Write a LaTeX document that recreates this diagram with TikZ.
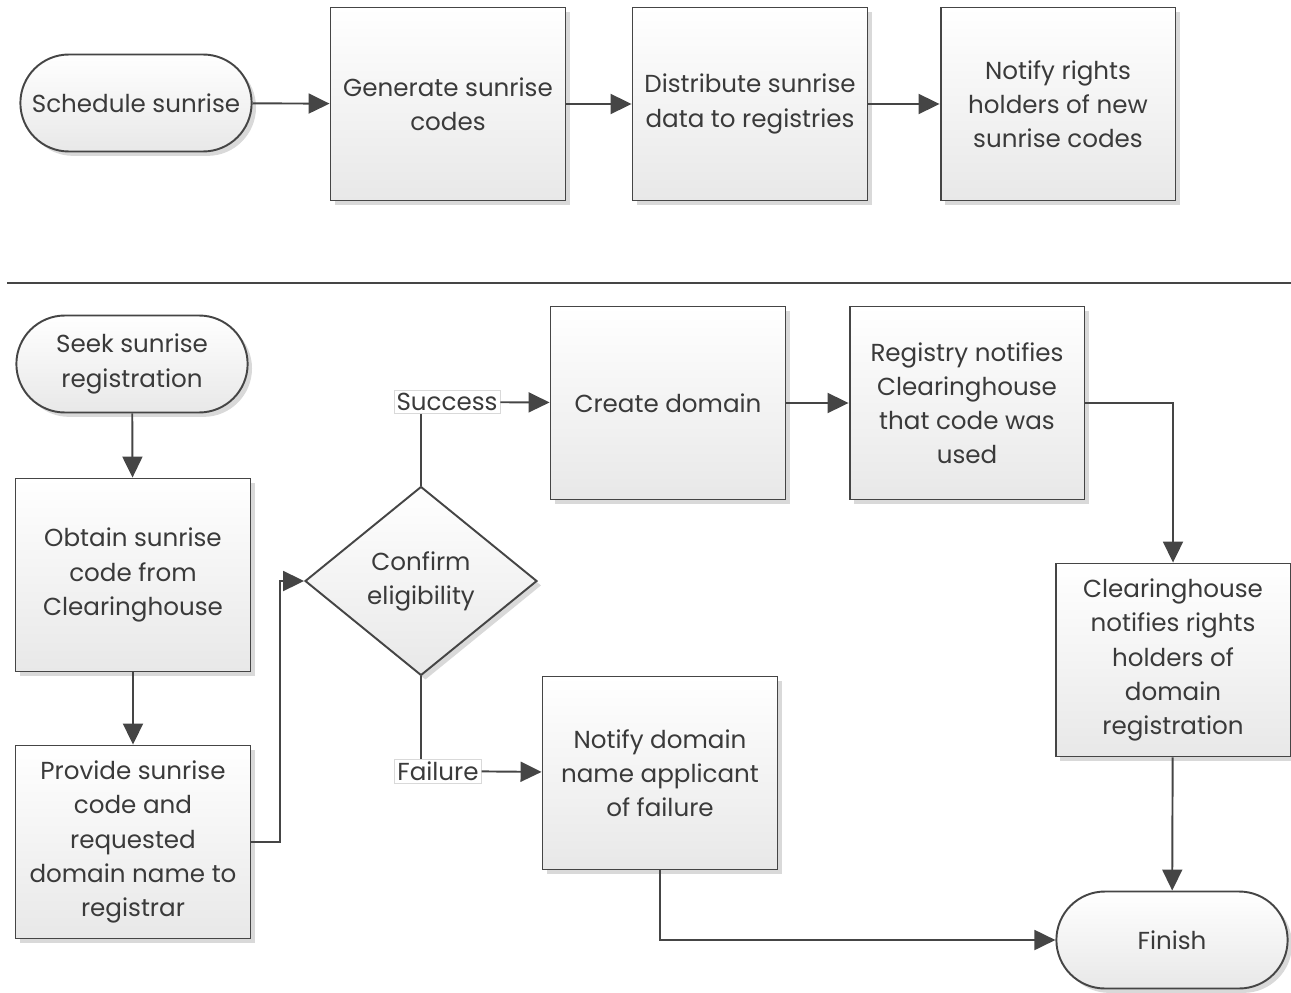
\documentclass[tikz,border=0pt]{standalone}
\usepackage{fontspec}
\setmainfont{Poppins}
\usetikzlibrary{arrows.meta,shapes.geometric,shapes.misc,shadows}
\definecolor{edge}{HTML}{454545}
\definecolor{ink}{HTML}{3a3a3a}
\definecolor{boxgray}{HTML}{e8e8e8}

\begin{document}
\begin{tikzpicture}[x=0.02cm, y=-0.02cm,
	every node/.style={font=\fontsize{14}{19.4}\selectfont, text=ink, align=center},
	shade/.style={draw=edge, line width=1.1pt, top color=white, bottom color=boxgray,
		drop shadow={shadow xshift=2.5pt, shadow yshift=-2.5pt, opacity=0.3, fill=gray}},
	box/.style={shade, rectangle, minimum width=4.7cm, minimum height=3.86cm},
	term/.style={shade, rounded rectangle, minimum width=4.86cm, minimum height=1.94cm},
	choice/.style={shade, diamond, shape aspect=1.23, inner sep=1pt, minimum width=4.64cm, minimum height=3.78cm},
	tag/.style={draw=black!15, fill=white, inner sep=1.5pt},
	line/.style={draw=edge, line width=1.1pt},
	arr/.style={line, -{Triangle[length=0.42cm, width=0.4cm]}}]
	\useasboundingbox (0,0) rectangle (1291,993);

	% sunrise setup
	\node[term] (sched) at (136,103) {Schedule sunrise};
	\node[box] (gen) at (448,104) {Generate sunrise\\codes};
	\node[box] (dist) at (750,104) {Distribute sunrise\\data to registries};
	\node[box] (notify) at (1058,104) {Notify rights\\holders of new\\sunrise codes};

	\draw[arr] (sched) -- (gen);
	\draw[arr] (gen) -- (dist);
	\draw[arr] (dist) -- (notify);

	\draw[line, line width=1.3pt] (7,283) -- (1291,283);

	% registration
	\node[term] (seek) at (132,364) {Seek sunrise\\registration};
	\node[box] (obtain) at (133,575) {Obtain sunrise\\code from\\Clearinghouse};
	\node[box] (provide) at (133,842) {Provide sunrise\\code and\\requested\\domain name to\\registrar};
	\node[choice] (confirm) at (421,581) {Confirm\\eligibility};
	\node[tag] (success) at (447,402) {Success};
	\node[tag] (failure) at (438,771) {Failure};
	\node[box] (create) at (668,403) {Create domain};
	\node[box] (registry) at (967,403) {Registry notifies\\Clearinghouse\\that code was\\used};
	\node[box] (fail) at (660,773) {Notify domain\\name applicant\\of failure};
	\node[box] (chnotify) at (1173,660) {Clearinghouse\\notifies rights\\holders of\\domain\\registration};
	\node[term] (finish) at (1172,940) {Finish};

	\draw[arr] (seek) -- (obtain);
	\draw[arr] (obtain) -- (provide);
	\draw[arr] (provide.east) -- ++(29,0) |- (confirm.west);
	\draw[line] (confirm.north) -- (confirm.north |- success.south);
	\draw[arr] (success) -- (create);
	\draw[line] (confirm.south) -- (confirm.south |- failure.north);
	\draw[arr] (failure) -- (fail);
	\draw[arr] (create) -- (registry);
	\draw[arr] (registry.east) -| (chnotify.north);
	\draw[arr] (chnotify) -- (finish);
	\draw[arr] (fail.south) |- (finish.west);
\end{tikzpicture}
\end{document}
